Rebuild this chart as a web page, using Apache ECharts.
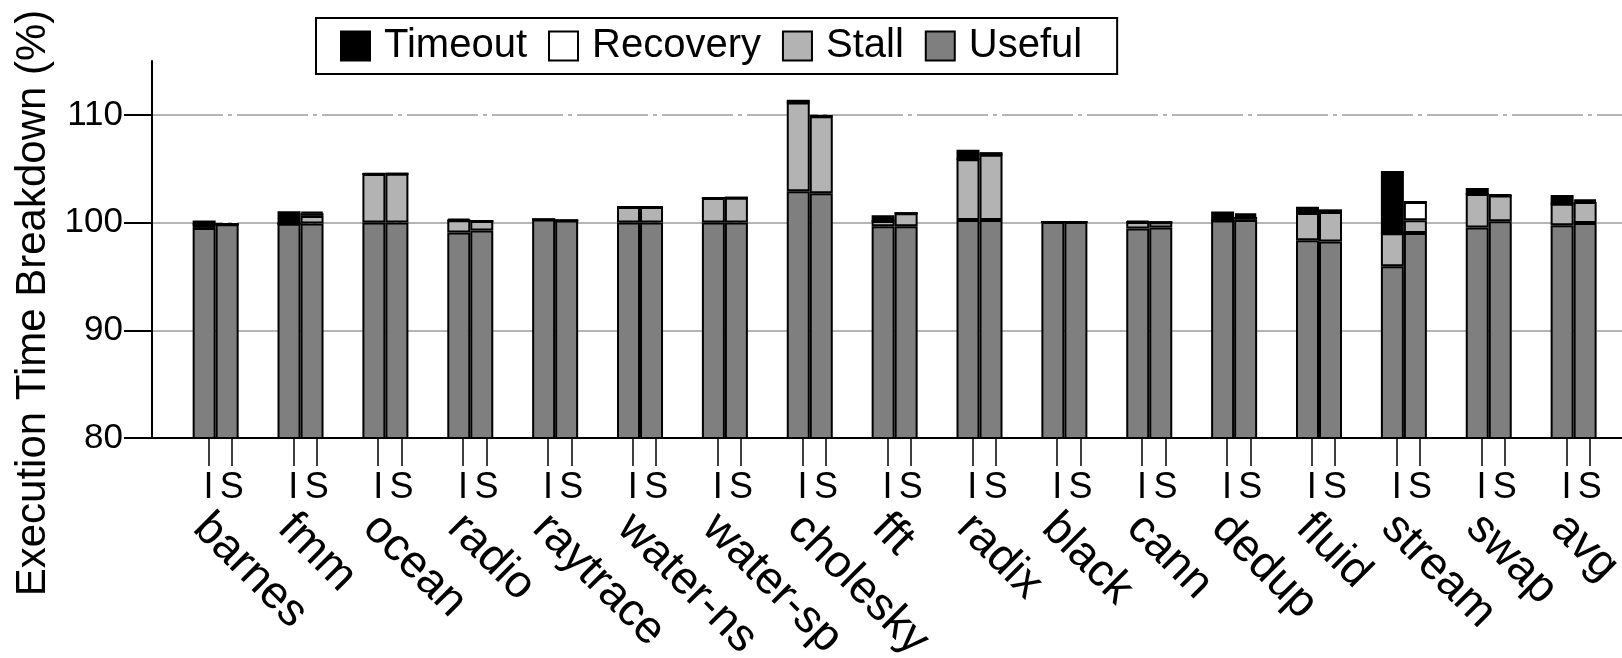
<!DOCTYPE html>
<html>
<head>
<meta charset="utf-8">
<script src="https://cdn.jsdelivr.net/npm/echarts@6/dist/echarts.min.js"></script>
<style>
html,body{margin:0;padding:0;background:#ffffff;}
#chart{width:1622px;height:658px;}
</style>
</head>
<body>
<div id="chart"></div>
<script>
// ---- data ----
const categories = ['barnes','fmm','ocean','radio','raytrace','water-ns','water-sp','cholesky','fft','radix','black','cann','dedup','fluid','stream','swap','avg'];
const runLabels = ['I', 'S'];
const yTicks = [80, 90, 100, 110];
const legendOrder = ['Timeout', 'Recovery', 'Stall', 'Useful'];

// I configuration
const usefulI   = [99.5, 99.9, 100.0, 99.07, 100.28, 100.0, 100.0, 102.9, 99.66, 100.24, 100.05, 99.45, 100.2, 98.36, 95.94, 99.54, 99.75];
const stallI    = [0.35, 0,    4.5,   1.15,  0,      1.45,  2.28,  8.25,  0.49,  5.63,   0,      0.6,   0,     2.53,  3.06,  3.11,  2.0];
const recoveryI = [0,    0,    0,     0,     0,      0,     0,     0,     0,     0,      0,      0,     0,     0,     0,     0,     0];
const timeoutI  = [0.34, 1.15, 0.05,  0.15,  0,      0,     0,     0.25,  0.53,  0.9,    0,      0.12,  0.82,  0.59,  5.78,  0.56,  0.8];

// S configuration
const usefulS   = [99.85, 99.92, 100.0, 99.26, 100.2, 100.0, 100.0, 102.72, 99.66, 100.24, 100.05, 99.54, 100.25, 98.24, 99.04, 100.12, 99.96];
const stallS    = [0,     0.7,   4.54,  0.89,  0,     1.45,  2.3,   7.15,   1.2,   6.05,   0,      0.5,   0.28,   2.74,  1.17,  2.4,    1.95];
const recoveryS = [0,     0.25,  0,     0,     0,     0,     0,     0,      0,     0,      0,      0,     0.17,   0,     1.7,   0,      0.12];
const timeoutS  = [0,     0.13,  0,     0,     0,     0,     0,     0.1,    0,     0.25,   0,      0,     0.16,   0.25,  0,     0.1,    0.1];

// ---- style / layout ----
const FONT = 'Liberation Sans';
const segments = [
  { name: 'Useful',   color: '#7f7f7f', I: usefulI,   S: usefulS },
  { name: 'Stall',    color: '#b3b3b3', I: stallI,    S: stallS },
  { name: 'Recovery', color: '#ffffff', I: recoveryI, S: recoveryS },
  { name: 'Timeout',  color: '#000000', I: timeoutI,  S: timeoutS }
];
const runOffset = { I: -0.085, S: 0.19 };   // tick / label offsets from group position
const nameOffset = -0.18;

const runTickValues = [];
categories.forEach((c, i) => runLabels.forEach(r => runTickValues.push(i + runOffset[r])));
const nameTickValues = categories.map((c, i) => i + nameOffset);

const series = [];
runLabels.forEach(run => {
  segments.forEach(seg => {
    series.push({
      type: 'bar',
      name: seg.name,
      stack: run,
      xAxisIndex: 0,
      yAxisIndex: 0,
      barWidth: 23,
      barGap: '0%',
      // value first so that the stack runs along the y (value) dimension
      data: seg[run].map((v, i) => [v, i]),
      encode: { x: 1, y: 0 },
      itemStyle: { color: seg.color, borderColor: '#000000', borderWidth: 2 },
      emphasis: { disabled: true },
      silent: true
    });
  });
});

const chart = echarts.init(document.getElementById('chart'), null, { renderer: 'canvas' });
chart.setOption({
  animation: false,
  backgroundColor: '#ffffff',
  textStyle: { fontFamily: FONT, color: '#000000' },
  grid: { left: 152, right: 0, top: 61, height: 377, containLabel: false, outerBoundsMode: 'none' },
  legend: {
    data: legendOrder,
    left: 316,
    top: 18,
    orient: 'horizontal',
    padding: [6, 35, 6, 24],
    itemGap: 21,
    itemWidth: 29,
    itemHeight: 29,
    icon: 'rect',
    borderColor: '#000000',
    borderWidth: 2,
    borderRadius: 0,
    itemStyle: { borderColor: '#000000', borderWidth: 2 },
    textStyle: { fontFamily: FONT, fontSize: 40, color: '#000000', lineHeight: 44, padding: [0, 0, 0, 9] },
    selectedMode: false
  },
  xAxis: [
    {
      type: 'value',
      min: -0.75,
      max: 16.57,
      position: 'bottom',
      axisLine: { show: true, onZero: false, lineStyle: { color: '#000000', width: 2 } },
      axisTick: { show: true, customValues: runTickValues, length: 28, lineStyle: { color: '#000000', width: 1.5 } },
      axisLabel: {
        show: true,
        customValues: runTickValues,
        formatter: v => (v < Math.round(v) ? runLabels[0] : runLabels[1]),
        fontFamily: FONT, fontSize: 36, color: '#000000', margin: 32
      },
      splitLine: { show: false }
    },
    {
      type: 'value',
      min: -0.75,
      max: 16.57,
      position: 'bottom',
      offset: 0,
      axisLine: { show: false, onZero: false },
      axisTick: { show: false },
      axisLabel: {
        show: true,
        customValues: nameTickValues,
        formatter: v => categories[Math.abs(Math.round(v))],
        rotate: -45,
        fontFamily: FONT, fontSize: 46, color: '#000000', margin: 83
      },
      splitLine: { show: false }
    }
  ],
  yAxis: {
    type: 'value',
    min: 80,
    max: 115,
    axisLine: { show: true, onZero: false, lineStyle: { color: '#000000', width: 2 } },
    axisTick: { show: true, customValues: yTicks, length: 28, lineStyle: { color: '#000000', width: 2 } },
    axisLabel: { customValues: yTicks, fontFamily: FONT, fontSize: 35, color: '#000000', margin: 29 },
    splitLine: { show: true, lineStyle: { color: '#b5b5b5', width: 2, type: [71, 5, 4, 5] } }
  },
  graphic: [
    {
      type: 'text',
      x: 33,
      y: 303,
      rotation: Math.PI / 2,
      style: {
        text: 'Execution Time Breakdown (%)',
        font: '42px "Liberation Sans"',
        fill: '#000000',
        textAlign: 'center',
        textVerticalAlign: 'middle'
      }
    }
  ],
  series: series
});
</script>
</body>
</html>
